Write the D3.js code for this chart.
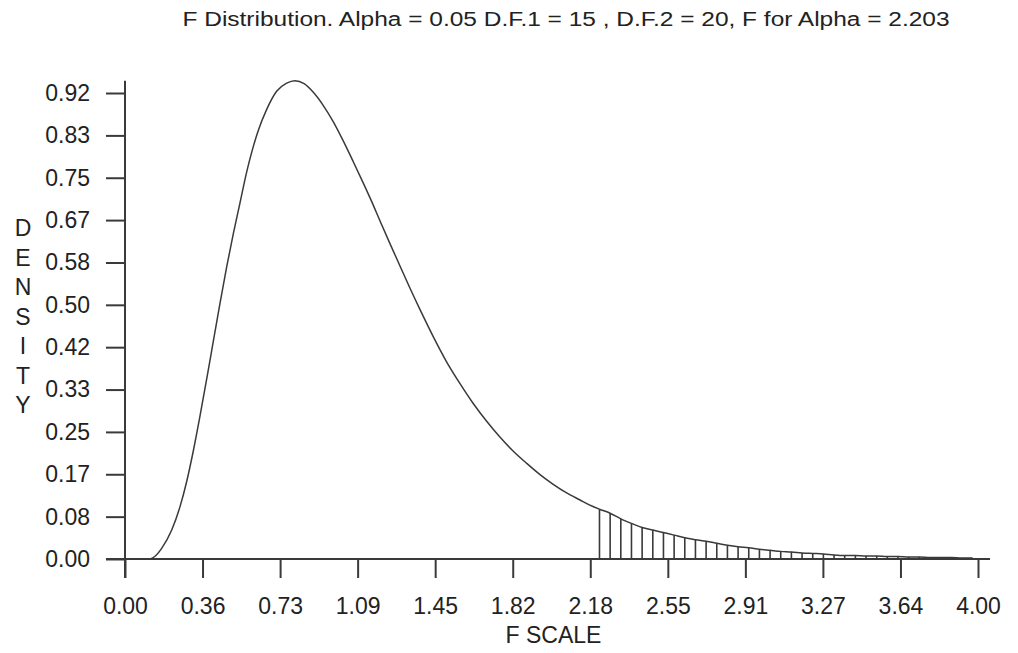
<!DOCTYPE html>
<html>
<head>
<meta charset="utf-8">
<script src="https://cdn.jsdelivr.net/npm/d3@7"></script>
<style>
  html, body { margin: 0; padding: 0; background: #fff; }
  svg { display: block; font-family: "Liberation Sans", Arial, sans-serif; }
</style>
</head>
<body>
<div id="chart"></div>
<script>
/* F density curve, df1 = 15, df2 = 20, upper tail shaded from the alpha point */
const titleText = "F Distribution. Alpha = 0.05 D.F.1 = 15 , D.F.2 = 20, F for Alpha = 2.203";
const alphaF = 2.203;

// curve points
const fScale = [
  0.120, 0.145, 0.172, 0.219, 0.258, 0.289, 0.320, 0.352, 0.383, 0.414,
  0.445, 0.477, 0.508, 0.539, 0.571, 0.594, 0.625, 0.664, 0.711, 0.758,
  0.797, 0.840, 0.883, 0.930, 0.977, 1.024, 1.071, 1.117, 1.157, 1.196,
  1.243, 1.290, 1.336, 1.383, 1.446, 1.508, 1.571, 1.633, 1.696, 1.758,
  1.821, 1.884, 1.946, 2.008, 2.071, 2.134, 2.180,
  2.225, 2.275, 2.325, 2.375, 2.425, 2.475, 2.525, 2.575, 2.625, 2.675,
  2.725, 2.775, 2.825, 2.875, 2.925, 2.975, 3.025, 3.075, 3.125, 3.175,
  3.225, 3.275, 3.325, 3.375, 3.425, 3.475, 3.525, 3.575, 3.625, 3.675,
  3.725, 3.775, 3.825, 3.875, 3.925, 3.975
];
const density = [
  0.000, 0.007, 0.021, 0.057, 0.103, 0.152, 0.212, 0.282, 0.354, 0.428,
  0.502, 0.575, 0.640, 0.700, 0.762, 0.800, 0.843, 0.884, 0.920, 0.936,
  0.941, 0.935, 0.918, 0.892, 0.860, 0.822, 0.781, 0.740, 0.703, 0.665,
  0.620, 0.576, 0.533, 0.491, 0.437, 0.388, 0.345, 0.306, 0.271, 0.240,
  0.212, 0.188, 0.166, 0.147, 0.130, 0.116, 0.106,
  0.098, 0.090, 0.079, 0.070, 0.062, 0.057, 0.052, 0.047, 0.042, 0.038,
  0.035, 0.031, 0.027, 0.024, 0.022, 0.019, 0.017, 0.015, 0.014, 0.012,
  0.011, 0.010, 0.008, 0.007, 0.007, 0.006, 0.006, 0.005, 0.005, 0.004,
  0.004, 0.003, 0.003, 0.003, 0.002, 0.002
];

const xTickValues = [0, 0.3636, 0.7273, 1.0909, 1.4545, 1.8182, 2.1818, 2.5455, 2.9091, 3.2727, 3.6364, 4.0];
const xTickLabels = ["0.00", "0.36", "0.73", "1.09", "1.45", "1.82", "2.18", "2.55", "2.91", "3.27", "3.64", "4.00"];
const yTickValues = [0, 0.0833, 0.1667, 0.25, 0.3333, 0.4167, 0.5, 0.5833, 0.6667, 0.75, 0.8333, 0.9167];
const yTickLabels = ["0.00", "0.08", "0.17", "0.25", "0.33", "0.42", "0.50", "0.58", "0.67", "0.75", "0.83", "0.92"];
const yTitle = "DENSITY";
const xTitle = "F SCALE";

const W = 1018, H = 653;
const ink = "#3a3a3a";
const svg = d3.select("#chart").append("svg").attr("width", W).attr("height", H);

const x = d3.scaleLinear().domain([0, 4]).range([125, 978]);
const y = d3.scaleLinear().domain([0, 0.9167]).range([559, 93]);
const tick = 19;
const pts = fScale.map((f, i) => ({ f, d: density[i] }));

// title
svg.append("text")
  .attr("x", 566).attr("y", 26)
  .attr("text-anchor", "middle")
  .attr("textLength", 767).attr("lengthAdjust", "spacingAndGlyphs")
  .style("font-size", "20px").attr("fill", "#222")
  .text(titleText);

// y axis
const gy = svg.append("g").attr("transform", `translate(${x(0)},0)`)
  .call(d3.axisLeft(y).tickValues(yTickValues).tickFormat((d, i) => yTickLabels[i])
    .tickSize(tick).tickPadding(16));
gy.select(".domain").remove();
gy.selectAll("line").attr("stroke", ink).attr("stroke-width", 2);
gy.selectAll("text").style("font-size", "23px").attr("fill", "#222");
svg.append("line")
  .attr("x1", x(0)).attr("x2", x(0))
  .attr("y1", y(d3.max(density))).attr("y2", y(0) + tick)
  .attr("stroke", ink).attr("stroke-width", 2);

// x axis
const gx = svg.append("g").attr("transform", `translate(0,${y(0)})`)
  .call(d3.axisBottom(x).tickValues(xTickValues).tickFormat((d, i) => xTickLabels[i]).tickSize(tick));
gx.select(".domain").remove();
gx.selectAll("line").attr("stroke", ink).attr("stroke-width", 2);
gx.selectAll("text").attr("y", 55).attr("dy", 0).style("font-size", "23px").attr("fill", "#222");
svg.append("line")
  .attr("x1", x(0) - tick).attr("x2", x(4) + 12)
  .attr("y1", y(0)).attr("y2", y(0))
  .attr("stroke", ink).attr("stroke-width", 2);

// axis titles
svg.append("text")
  .attr("x", (x(0) + x(4)) / 2 + 2).attr("y", 643)
  .attr("text-anchor", "middle")
  .style("font-size", "23px").attr("fill", "#222")
  .text(xTitle);
svg.append("g").selectAll("text").data(yTitle.split("")).join("text")
  .attr("x", 23).attr("y", (c, i) => 236 + i * 29.5)
  .attr("text-anchor", "middle")
  .style("font-size", "23px").attr("fill", "#222")
  .text(c => c);

// shaded tail: vertical hatch lines
svg.append("g").selectAll("line").data(pts.filter(p => p.f >= alphaF)).join("line")
  .attr("x1", p => x(p.f)).attr("x2", p => x(p.f))
  .attr("y1", p => y(p.d)).attr("y2", y(0))
  .attr("stroke", ink).attr("stroke-width", 1.6);

// density curve
svg.append("path").datum(pts)
  .attr("fill", "none").attr("stroke", ink).attr("stroke-width", 1.5)
  .attr("d", d3.line().x(p => x(p.f)).y(p => y(p.d)).curve(d3.curveMonotoneX));
</script>
</body>
</html>
